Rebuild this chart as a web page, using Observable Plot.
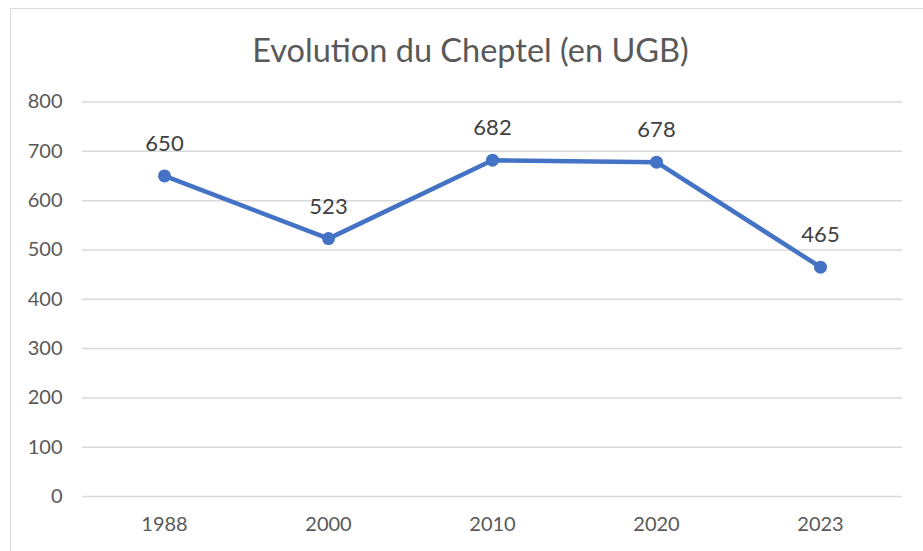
<!DOCTYPE html>
<html><head><meta charset="utf-8">
<script src="https://cdn.jsdelivr.net/npm/d3@7"></script>
<script src="https://cdn.jsdelivr.net/npm/@observablehq/plot@0.6"></script>
<style>
html,body{margin:0;padding:0;background:#fff;}
#wrap{position:relative;width:923px;height:551px;overflow:hidden;font-family:Lato,"Open Sans",sans-serif;}
#border{position:absolute;left:10px;top:8px;width:940px;height:600px;border:1px solid #d9d9d9;box-sizing:border-box;}
#chart{position:absolute;left:0;top:0;}
</style></head>
<body><div id="wrap"><div id="border"></div><div id="chart"></div></div>
<script>
const years = ["1988","2000","2010","2020","2023"];
const values = [650, 523, 682, 678, 465];
const yTicks = [0,100,200,300,400,500,600,700,800];
const title = "Evolution du Cheptel (en UGB)";

const data = years.map((y,i)=>({year:y, value:values[i]}));
const blue = "#4472C4";
const chart = Plot.plot({
  width: 923, height: 551,
  marginLeft: 82, marginRight: 21, marginTop: 101.5, marginBottom: 55,
  style: {fontFamily: "Lato, 'Open Sans', sans-serif", background: "transparent"},
  x: {type: "point", domain: years, padding: 0.5, label: null},
  y: {domain: [0, 800], ticks: yTicks, label: null},
  marks: [
    Plot.ruleY(yTicks, {stroke: "#d9d9d9", strokeWidth: 1.5}),
    Plot.axisY({ticks: yTicks, tickSize: 0, tickPadding: 20, fontSize: 20, fill: "#595959", label: null}),
    Plot.axisX({tickSize: 0, tickPadding: 20, fontSize: 20, fill: "#595959", label: null}),
    Plot.line(data, {x: "year", y: "value", stroke: blue, strokeWidth: 4.5, strokeLinejoin: "round"}),
    Plot.dot(data, {x: "year", y: "value", fill: blue, r: 6.5}),
    Plot.text(data, {x: "year", y: "value", text: d => String(d.value), dy: -32, fontSize: 22, fill: "#404040"}),
    Plot.text([title], {frameAnchor: "top", lineAnchor: "middle", dy: -50, dx: -22, fontSize: 32.5, fill: "#595959"})
  ]
});
document.getElementById("chart").appendChild(chart);
</script></body></html>
